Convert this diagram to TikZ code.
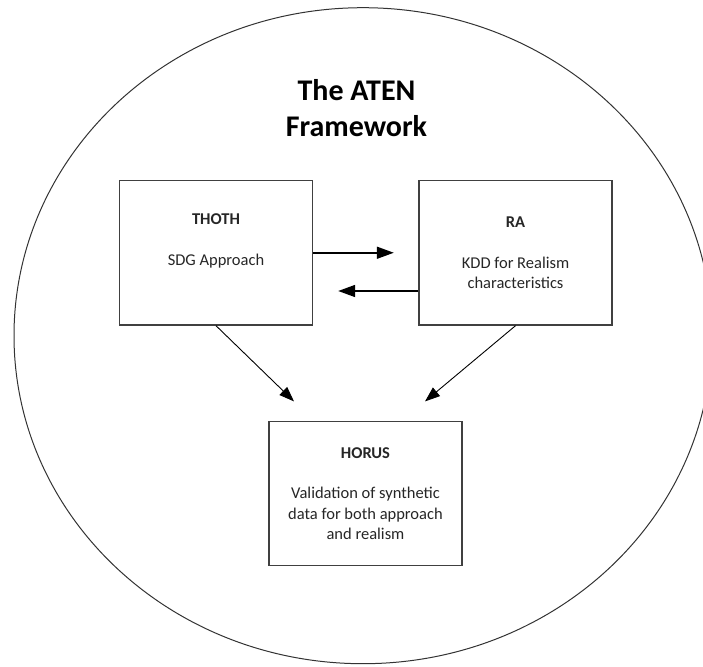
\documentclass[tikz,border=0pt]{standalone}
\usepackage{fontspec}
\setmainfont{Carlito}
\usetikzlibrary{arrows.meta}
\tikzset{
  godbox/.style={draw=black!75, line width=1.4pt, minimum width=193pt, minimum height=144.5pt,
    inner sep=0pt, align=center, text=black!85, font=\fontsize{16.5}{20.3}\selectfont},
  flow/.style={draw, line width=1.6pt, -{Triangle[length=17pt,width=12pt]}},
  slant/.style={draw, line width=0.9pt, -{Triangle[length=15pt,width=11pt]}}
}
\begin{document}
\begin{tikzpicture}[x=1pt,y=-1pt]
\useasboundingbox (0,0) rectangle (703,666);
\clip (0,0) rectangle (703,666);
\draw[line width=1pt, black!80] (363,335.7) ellipse [x radius=349, y radius=328];
\node[font=\fontsize{30}{36}\selectfont\bfseries, align=center] (title) at (356.5,108.5) {The ATEN\\Framework};
\node[godbox] (thoth) at (216,252.75) {\textbf{THOTH}\\[20.3pt]SDG Approach\\\strut};
\node[godbox] (ra) at (515.5,252.75) {\textbf{RA}\\[20.3pt]KDD for Realism\\characteristics};
\node[godbox] (horus) at (365.5,493.5) {\textbf{HORUS}\\[20.3pt]Validation of synthetic\\data for both approach\\and realism};
\coordinate (hl) at (294,401.4);
\coordinate (hr) at (425,401.4);
\path[flow, shorten >=24.5pt] (thoth.east) -- (ra.west);
\path[flow, shorten >=25pt] ([yshift=-38.25pt]ra.west) -- ([yshift=-38.25pt]thoth.east);
\path[slant] (thoth.south) -- (hl);
\path[slant] (ra.south) -- (hr);
\end{tikzpicture}
\end{document}
